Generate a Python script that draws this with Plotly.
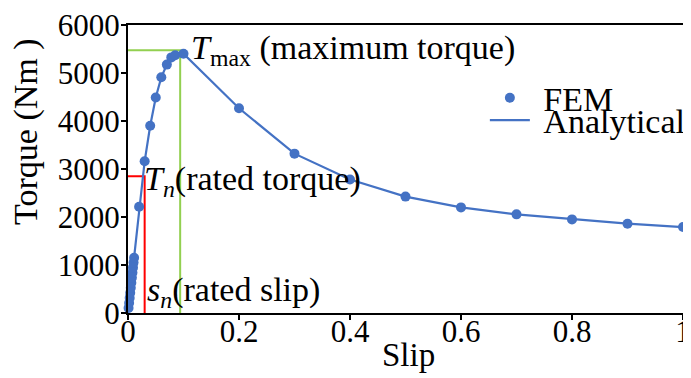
import plotly.graph_objects as go

# ---- data ----
fem_slip = [0.001, 0.002, 0.003, 0.004, 0.005, 0.006, 0.007, 0.008, 0.009, 0.010, 0.011,
            0.02, 0.03, 0.04, 0.05, 0.06, 0.07, 0.078, 0.085, 0.1,
            0.2, 0.3, 0.4, 0.5, 0.6, 0.7, 0.8, 0.9, 1.0]
fem_torque = [105, 210, 315, 420, 525, 630, 735, 840, 945, 1050, 1150,
              2215, 3160, 3900, 4490, 4910, 5175, 5325, 5370, 5400,
              4265, 3320, 2780, 2425, 2200, 2055, 1950, 1860, 1790]

ana_slip = [0.0, 0.011, 0.02, 0.03, 0.04, 0.05, 0.06, 0.07, 0.078, 0.085, 0.1,
            0.2, 0.3, 0.4, 0.5, 0.6, 0.7, 0.8, 0.9, 1.0]
ana_torque = [0, 1150, 2215, 3160, 3900, 4490, 4910, 5175, 5325, 5370, 5400,
              4265, 3320, 2780, 2425, 2200, 2055, 1950, 1860, 1790]

rated_slip = 0.03
rated_torque = 2850
max_slip = 0.094
max_torque = 5475

x_ticks = [0, 0.2, 0.4, 0.6, 0.8, 1]
x_tick_text = ["0", "0.2", "0.4", "0.6", "0.8", "1"]
y_ticks = [0, 1000, 2000, 3000, 4000, 5000, 6000]

BLUE = "#4472c4"
RED = "#ff0000"
GREEN = "#92d050"
FONT = "Liberation Serif"

fig = go.Figure()

# reference lines
fig.add_trace(go.Scatter(x=[0, max_slip, max_slip], y=[max_torque, max_torque, 0],
                         mode="lines", line=dict(color=GREEN, width=2),
                         showlegend=False, hoverinfo="skip", cliponaxis=False))
fig.add_trace(go.Scatter(x=[0, rated_slip, rated_slip], y=[rated_torque, rated_torque, 0],
                         mode="lines", line=dict(color=RED, width=2),
                         showlegend=False, hoverinfo="skip", cliponaxis=False))

fig.add_trace(go.Scatter(x=ana_slip, y=ana_torque, mode="lines", name="\u00a0Analytical",
                         line=dict(color=BLUE, width=2.2), cliponaxis=False,
                         legend="legend2"))
fig.add_trace(go.Scatter(x=fem_slip, y=fem_torque, mode="markers", name="\u00a0FEM",
                         marker=dict(color=BLUE, size=10), cliponaxis=False,
                         legend="legend"))

ann_font = dict(family=FONT, size=34, color="black")
fig.add_annotation(x=0.11, y=5480, xref="x", yref="y", xanchor="left", yanchor="middle",
                   text="<i>T</i><sub>max</sub> (maximum torque)", showarrow=False,
                   font=ann_font)
fig.add_annotation(x=0.025, y=2740, xref="x", yref="y", xanchor="left", yanchor="middle",
                   text="<i>T</i><sub><i>n</i></sub>(rated torque)", showarrow=False,
                   font=ann_font)
fig.add_annotation(x=0.030, y=430, xref="x", yref="y", xanchor="left", yanchor="middle",
                   text="<i>s</i><sub><i>n</i></sub>(rated slip)", showarrow=False,
                   font=ann_font)

# axis titles placed as in the reference
fig.add_annotation(x=-0.185, y=0.63, xref="paper", yref="paper", xanchor="center",
                   yanchor="middle", text="Torque (Nm )", textangle=-90, showarrow=False,
                   font=dict(family=FONT, size=34, color="black"))
fig.add_annotation(x=0.505, y=-0.146, xref="paper", yref="paper", xanchor="center",
                   yanchor="middle", text="Slip", showarrow=False,
                   font=dict(family=FONT, size=33, color="black"))

leg_common = dict(xanchor="left", yanchor="middle", bgcolor="rgba(0,0,0,0)",
                  font=dict(family=FONT, size=34, color="black"), itemwidth=40,
                  borderwidth=0)
fig.update_layout(
    width=683, height=370,
    margin=dict(l=120, r=0, t=13, b=65),
    paper_bgcolor="white", plot_bgcolor="white",
    font=dict(family=FONT, size=31, color="black"),
    showlegend=True,
    legend=dict(x=0.643, y=0.746, **leg_common),
    legend2=dict(x=0.643, y=0.668, **leg_common),
)
fig.update_xaxes(range=[0, 1], tickvals=x_ticks, ticktext=x_tick_text,
                 showline=True, linecolor="black", linewidth=2, mirror=True,
                 ticks="outside", ticklen=5, tickwidth=1.5, tickcolor="black",
                 showgrid=False, zeroline=False, ticklabeloverflow="allow",
                 ticklabelstandoff=-15)
fig.update_yaxes(range=[0, 6000], tickvals=y_ticks,
                 showline=True, linecolor="black", linewidth=2, mirror=False,
                 ticks="outside", ticklen=5, tickwidth=1.5, tickcolor="black",
                 showgrid=False, zeroline=False, ticklabeloverflow="allow",
                 ticklabelstandoff=-5)

fig.write_html("out.html")
